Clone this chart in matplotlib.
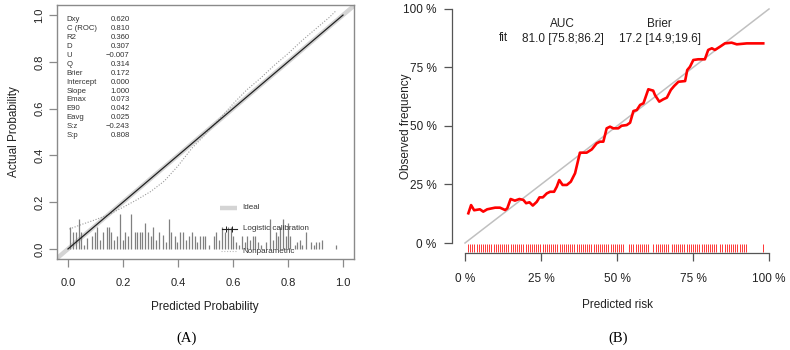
import numpy as np
import matplotlib.pyplot as plt

plt.rcParams['font.family'] = ['Liberation Sans', 'DejaVu Sans']

# ---- panel A data ----
stat_names = ['Dxy', 'C (ROC)', 'R2', 'D', 'U', 'Q', 'Brier', 'Intercept',
              'Slope', 'Emax', 'E90', 'Eavg', 'S:z', 'S:p']
stat_vals = ['0.620', '0.810', '0.360', '0.307', '\u22120.007', '0.314', '0.172',
             '0.000', '1.000', '0.073', '0.042', '0.025', '\u22120.243', '0.808']

spike_x = [0.006, 0.018, 0.028, 0.039, 0.049, 0.058, 0.069, 0.087, 0.097, 0.107,
           0.118, 0.127, 0.140, 0.148, 0.158, 0.167, 0.178, 0.188, 0.200, 0.209,
           0.218, 0.230, 0.243, 0.252, 0.260, 0.269, 0.279, 0.291, 0.300, 0.309,
           0.321, 0.330, 0.345, 0.355, 0.367, 0.376, 0.388, 0.396, 0.409, 0.418,
           0.428, 0.439, 0.451, 0.461, 0.470, 0.481, 0.491, 0.500, 0.512, 0.530,
           0.540, 0.549, 0.560, 0.570, 0.582, 0.592, 0.600, 0.612, 0.621, 0.631,
           0.643, 0.651, 0.661, 0.673, 0.681, 0.691, 0.703, 0.721, 0.733, 0.745,
           0.755, 0.764, 0.772, 0.782, 0.792, 0.800, 0.809, 0.824, 0.833, 0.843,
           0.852, 0.864, 0.885, 0.893, 0.903, 0.913, 0.924, 0.973]
spike_h = [0.093, 0.074, 0.074, 0.130, 0.074, 0.017, 0.046, 0.056, 0.074, 0.093,
           0.039, 0.074, 0.093, 0.093, 0.074, 0.039, 0.056, 0.149, 0.039, 0.074,
           0.056, 0.149, 0.074, 0.074, 0.074, 0.074, 0.111, 0.074, 0.056, 0.093,
           0.039, 0.074, 0.060, 0.030, 0.130, 0.074, 0.056, 0.030, 0.074, 0.074,
           0.039, 0.056, 0.074, 0.056, 0.030, 0.056, 0.056, 0.056, 0.017, 0.056,
           0.074, 0.039, 0.093, 0.074, 0.093, 0.093, 0.056, 0.030, 0.017, 0.056,
           0.030, 0.056, 0.039, 0.056, 0.056, 0.030, 0.017, 0.030, 0.130, 0.039,
           0.074, 0.056, 0.093, 0.130, 0.056, 0.111, 0.056, 0.017, 0.030, 0.039,
           0.017, 0.074, 0.030, 0.017, 0.030, 0.030, 0.039, 0.017]

np_x = [0.005, 0.05, 0.10, 0.15, 0.20, 0.25, 0.30, 0.35, 0.40, 0.45, 0.50,
        0.55, 0.60, 0.65, 0.70, 0.75, 0.80, 0.85, 0.90, 0.95, 0.976]
np_y = [0.085, 0.105, 0.125, 0.148, 0.178, 0.21, 0.245, 0.29, 0.355, 0.43, 0.49,
        0.555, 0.62, 0.68, 0.73, 0.785, 0.835, 0.89, 0.94, 0.99, 1.02]

# ---- panel B data ----
risk = [1.1, 2.0, 3.0, 4.9, 6.0, 7.3, 9.9, 11.5, 13.2, 13.9, 15.0, 16.4, 17.9,
        19.2, 20.1, 21.2, 22.3, 23.6, 24.5, 25.6, 26.9, 28.0, 29.3, 30.2, 31.0,
        32.1, 33.5, 34.8, 36.2, 37.8, 40.0, 41.7, 43.3, 44.4, 45.5, 46.6, 47.7,
        48.8, 50.4, 51.5, 53.2, 54.3, 55.4, 56.5, 57.6, 58.7, 60.3, 61.9, 62.5,
        63.9, 65.2, 66.4, 67.7, 68.8, 70.2, 72.4, 73.1, 74.0, 75.1, 76.7, 78.9,
        80.0, 81.2, 82.2, 83.9, 85.5, 87.7, 89.4, 92.7, 98.1]
observed = [12.7, 16.2, 14.0, 14.4, 13.4, 14.4, 15.1, 15.1, 14.1, 14.8, 18.8,
            18.1, 18.8, 18.4, 17.0, 17.4, 16.0, 17.6, 19.5, 19.5, 21.2, 21.9,
            21.9, 24.1, 26.9, 24.8, 24.8, 26.2, 29.8, 38.6, 38.6, 40.0, 42.6,
            43.3, 43.3, 49.0, 49.7, 49.0, 49.0, 50.1, 50.4, 51.4, 56.4, 56.8,
            59.0, 59.7, 65.7, 65.1, 63.2, 60.4, 61.4, 62.1, 65.4, 67.1, 68.9,
            69.2, 73.9, 75.3, 78.2, 78.5, 78.5, 82.5, 83.2, 82.5, 83.9, 85.3,
            85.6, 84.9, 85.3, 85.3]

rug = [1.0, 1.7, 2.4, 3.1, 3.8, 4.5, 5.2, 5.9, 6.6, 7.3, 8.0, 8.7, 9.4, 10.1,
       10.8, 11.5, 12.2, 12.9, 13.6, 14.3, 15.0, 15.7, 16.4, 17.1, 17.8, 18.5,
       19.2, 19.9, 20.6, 21.3, 22.0, 22.7, 23.4, 24.1, 24.8, 25.5, 26.2, 26.9,
       27.6, 28.3, 29.0, 29.7, 30.4, 31.1, 31.8, 32.5, 33.2, 33.9, 34.6, 35.3,
       36.0, 36.7, 37.4, 38.1, 38.8, 39.5, 40.2, 40.9, 41.6, 42.3, 43.0, 43.7,
       44.4, 45.1, 45.8, 46.5, 47.2, 47.9, 48.6, 49.3, 50.0, 50.7, 51.4, 52.1,
       54.0, 54.7, 55.4, 56.1, 56.8, 57.5, 58.2, 58.9, 59.6, 60.3,
       62.0, 62.7, 63.4, 64.1, 64.8, 65.5, 66.2, 66.8,
       68.0, 68.7, 69.4, 70.1, 70.8, 71.5, 72.2, 72.9, 73.6, 74.3, 75.0, 75.7,
       76.4, 77.1, 77.8, 78.5, 79.2, 79.9, 80.6, 81.3, 82.0, 82.6,
       84.0, 84.7, 85.4, 86.1, 86.8, 87.5, 88.2, 88.9, 89.6, 90.3, 91.0, 91.7,
       92.4, 98.0]

W, H = 790, 350
fig = plt.figure(figsize=(7.9, 3.5), dpi=100)

def box(l, t, r, b):
    return [l / W, (H - b) / H, (r - l) / W, (b - t) / H]

# ================= panel A =================
ax = fig.add_axes(box(57, 5, 354, 259))
ax.set_xlim(-0.04, 1.04)
ax.set_ylim(-0.043, 1.043)
grey = '#8a8a8a'
for s in ax.spines.values():
    s.set_color(grey)
    s.set_linewidth(1.0)

ax.plot([-0.1, 1.1], [-0.1, 1.1], color='#d4d4d4', lw=3.2, solid_capstyle='butt', zorder=1)
ax.plot([0, 1], [0, 1], color='#222222', lw=0.9, zorder=3)
ax.plot(np_x, np_y, color='#9a9a9a', lw=0.8, ls=(0, (1, 1.5)), zorder=2)
ax.vlines(spike_x, 0, spike_h, color='#808080', lw=0.9, zorder=2)

for i, (n, v) in enumerate(zip(stat_names, stat_vals)):
    yy = 0.98 - i * 0.0381
    ax.text(-0.005, yy, n, fontsize=5.6, color='#333333', va='center', ha='left')
    ax.text(0.225, yy, v, fontsize=5.6, color='#333333', va='center', ha='right')

# legend
ax.plot([0.552, 0.614], [0.176, 0.176], color='#d4d4d4', lw=3.2, solid_capstyle='butt')
ax.text(0.635, 0.176, 'Ideal', fontsize=5.8, color='#333333', va='center')
ax.plot([0.56, 0.614], [0.086, 0.086], color='#222222', lw=0.8)
ax.plot([0.574, 0.598], [0.086, 0.086], ls='none', marker='|', ms=4, color='#222222', mew=0.7)
ax.text(0.635, 0.086, 'Logistic calibration', fontsize=5.8, color='#333333', va='center')
ax.plot([0.556, 0.614], [-0.009, -0.009], color='#bbbbbb', lw=0.8, ls=(0, (1, 1.5)))
ax.text(0.635, -0.009, 'Nonparametric', fontsize=5.8, color='#333333', va='center')

ax.set_xticks([0, 0.2, 0.4, 0.6, 0.8, 1.0])
ax.set_yticks([0, 0.2, 0.4, 0.6, 0.8, 1.0])
ax.set_xticklabels(['0.0', '0.2', '0.4', '0.6', '0.8', '1.0'])
ax.set_yticklabels(['0.0', '0.2', '0.4', '0.6', '0.8', '1.0'], rotation=90, va='center')
ax.tick_params(direction='out', length=6, width=0.9, color=grey, labelsize=8,
               labelcolor='#222222', pad=3)
ax.tick_params(axis='x', pad=8)

fig.text(205 / W, 1 - 307 / H, 'Predicted Probability', fontsize=8.5, color='#222222',
         ha='center', va='center')
fig.text(14 / W, 1 - 132 / H, 'Actual Probability', fontsize=8.5, color='#222222',
         ha='center', va='center', rotation=90)

# ================= panel B =================
bx = fig.add_axes(box(452, 5, 775, 253.3))
bx.set_xlim(-4.28, 101.97)
bx.set_ylim(-4.4, 101.7)
for k in ['top', 'right']:
    bx.spines[k].set_visible(False)
for k in ['left', 'bottom']:
    bx.spines[k].set_color('#555555')
    bx.spines[k].set_linewidth(0.9)
    bx.spines[k].set_bounds(0, 100)

bx.plot([0, 100], [0, 100], color='#c0c0c0', lw=1.1, zorder=1)
bx.plot(risk, observed, color='#ff0000', lw=1.9, zorder=3)
bx.vlines(rug, -0.6, -4.0, color='#ff0000', lw=0.55, zorder=2)

bx.set_xticks([0, 25, 50, 75, 100])
bx.set_xticklabels(['0 %', '25 %', '50 %', '75 %', '100 %'])
bx.set_yticks([0, 25, 50, 75, 100])
bx.set_yticklabels(['0 %', '25 %', '50 %', '75 %', '100 %'])
bx.tick_params(direction='out', length=6, width=0.9, color='#555555', labelsize=8.5,
               labelcolor='#222222')
bx.tick_params(axis='x', pad=8)
bx.tick_params(axis='y', pad=5)

bx.text(31.9, 93.6, 'AUC', fontsize=8.5, ha='center', va='center', color='#222222')
bx.text(63.8, 93.6, 'Brier', fontsize=8.5, ha='center', va='center', color='#222222')
bx.text(12.5, 87.8, 'fit', fontsize=8.5, ha='center', va='center', color='#222222')
bx.text(32.2, 87.3, '81.0 [75.8;86.2]', fontsize=8.5, ha='center', va='center', color='#222222')
bx.text(64.1, 87.3, '17.2 [14.9;19.6]', fontsize=8.5, ha='center', va='center', color='#222222')

fig.text(617 / W, 1 - 305 / H, 'Predicted risk', fontsize=8.5, color='#222222',
         ha='center', va='center')
fig.text(406 / W, 1 - 126 / H, 'Observed frequency', fontsize=8.5, color='#222222',
         ha='center', va='center', rotation=90)

fig.text(187 / W, 1 - 338 / H, '(A)', fontsize=10.5, family='Liberation Serif',
         ha='center', va='center')
fig.text(618 / W, 1 - 338 / H, '(B)', fontsize=10.5, family='Liberation Serif',
         ha='center', va='center')

fig.savefig('out.png', dpi=100)
